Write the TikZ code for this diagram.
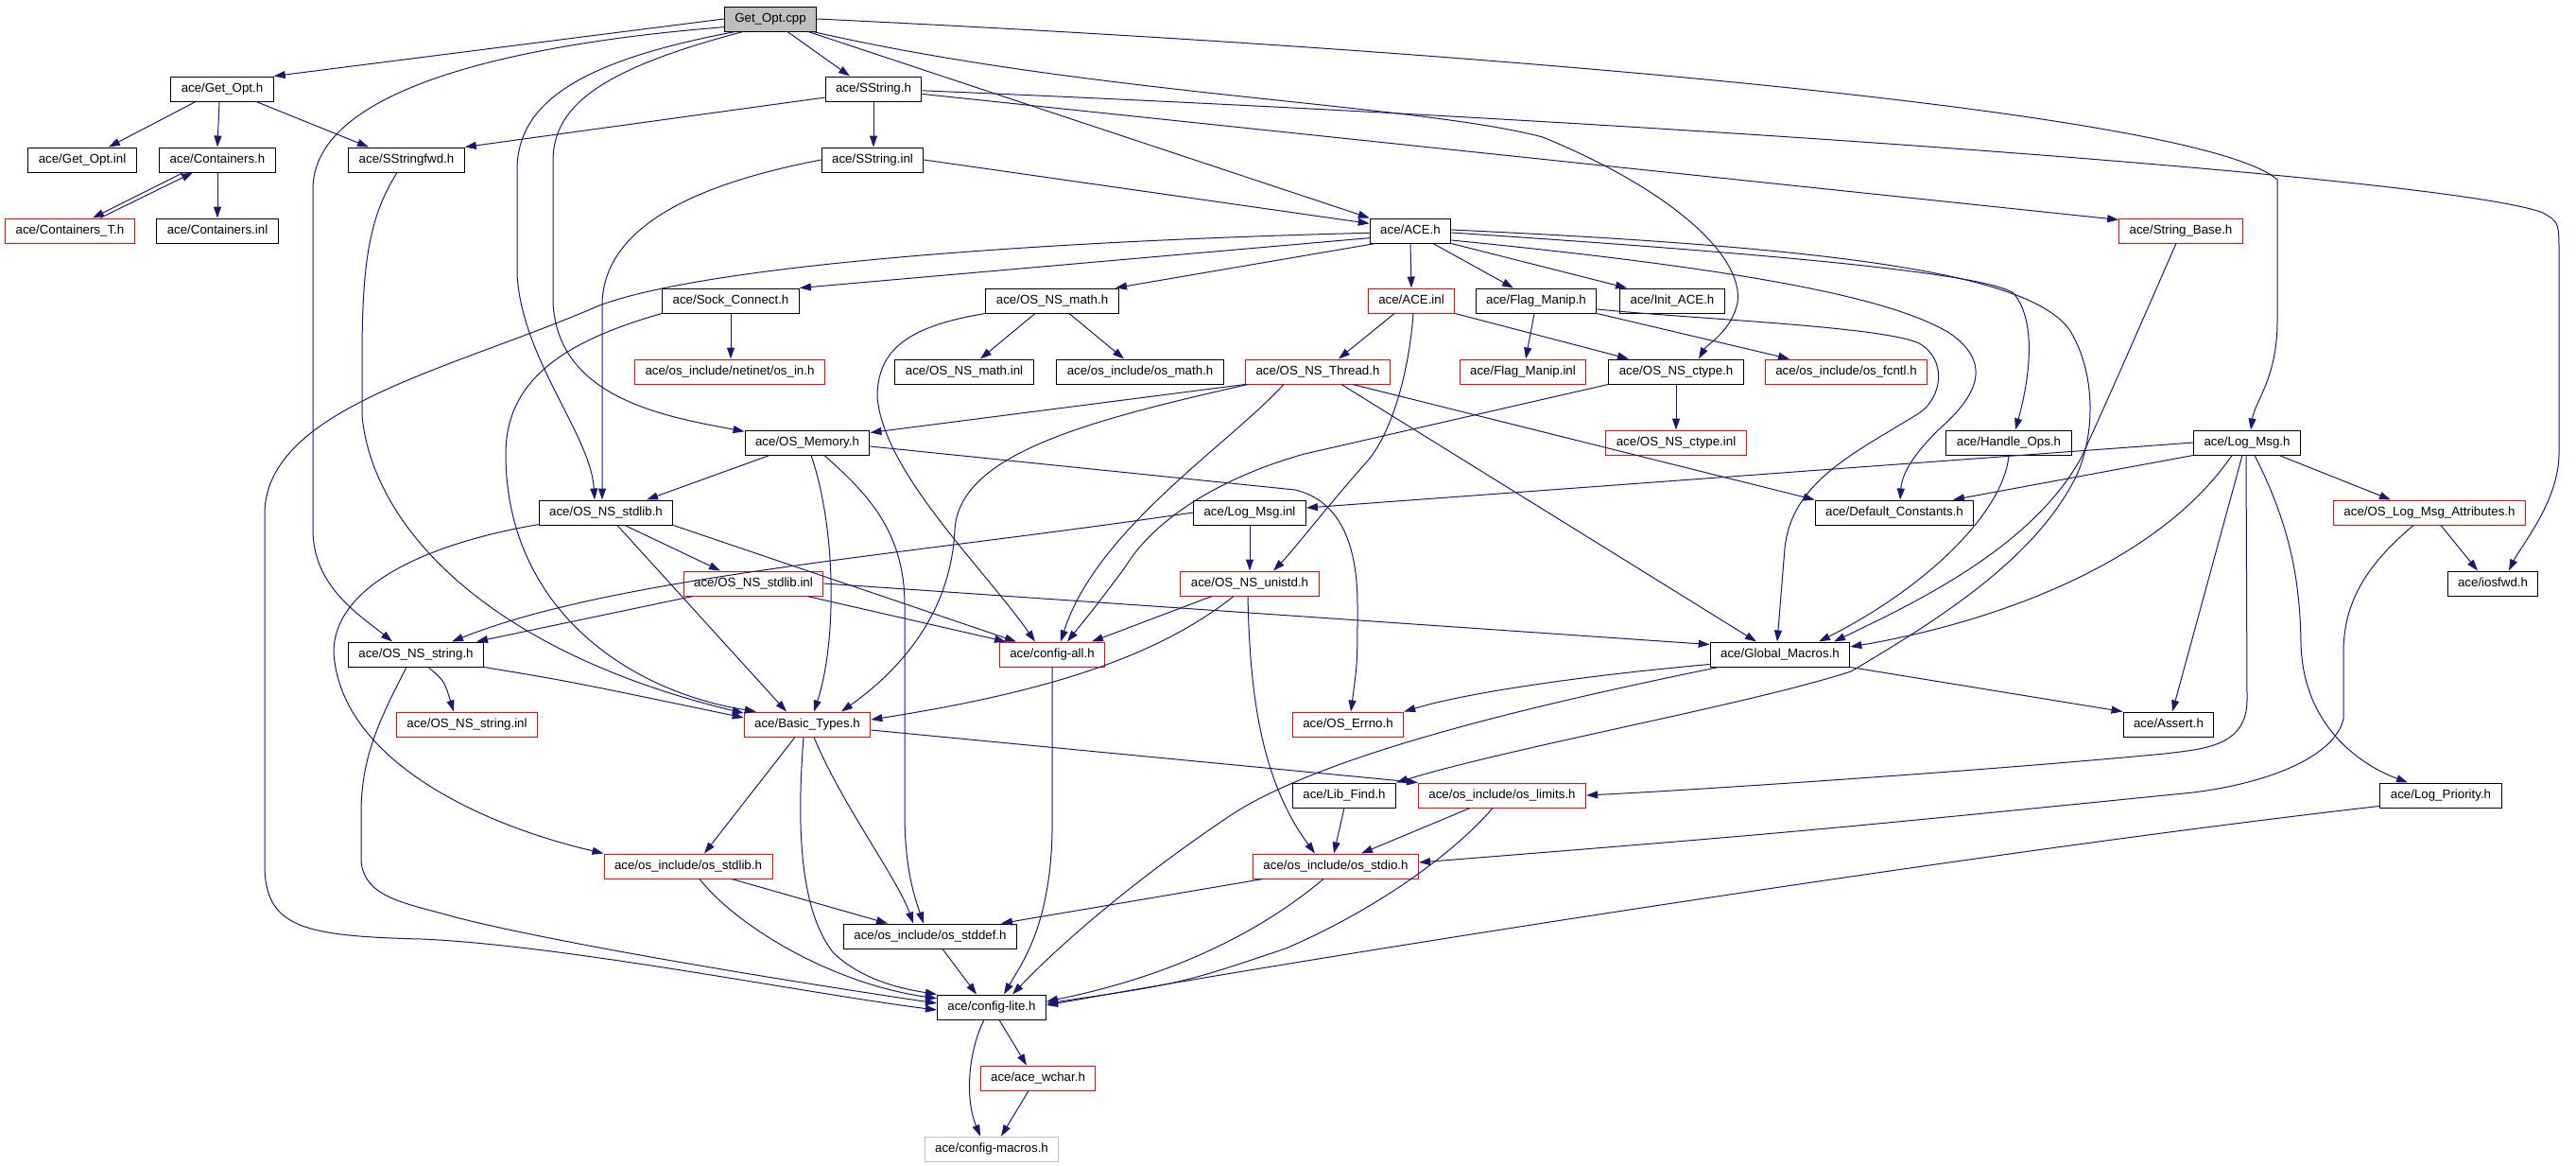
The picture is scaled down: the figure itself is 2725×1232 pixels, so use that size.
\documentclass[tikz,border=0pt]{standalone}
\usepackage{fontspec}
\setmainfont{Liberation Sans}
\usetikzlibrary{arrows.meta}
\definecolor{edgeblue}{HTML}{191970}
\definecolor{boxgray}{HTML}{BFBFBF}
\tikzstyle{file} = [draw=black, fill=white, rectangle, line width=1pt,
    minimum height=26pt, inner xsep=11pt, inner ysep=0pt,
    text height=10pt, text depth=3pt, font=\fontsize{13.3}{16}\selectfont]
\tikzstyle{partfile} = [file, draw=red]
\tikzstyle{mainfile} = [file, fill=boxgray]
\tikzstyle{grayfile} = [file, draw=boxgray]
\tikzstyle{incl} = [draw=edgeblue, line width=1pt, -{Triangle[length=12pt,width=8pt]}]

\begin{document}
\begin{tikzpicture}[x=1pt, y=-1pt]
    \useasboundingbox (0,0) rectangle (2725,1232);
    \node [mainfile] (cpp) at (815,20) {Get\_Opt.cpp};
    \node [file] (goh) at (235,94) {ace/Get\_Opt.h};
    \node [file] (ssh) at (924,94) {ace/SString.h};
    \node [file] (goi) at (87,169) {ace/Get\_Opt.inl};
    \node [file] (conh) at (230,169) {ace/Containers.h};
    \node [file] (ssfwd) at (430,169) {ace/SStringfwd.h};
    \node [file] (ssinl) at (923,169) {ace/SString.inl};
    \node [partfile] (cont) at (74,244) {ace/Containers\_T.h};
    \node [file] (coninl) at (230,244) {ace/Containers.inl};
    \node [file] (ace) at (1492,244) {ace/ACE.h};
    \node [partfile] (sbase) at (2307,244) {ace/String\_Base.h};
    \node [file] (sock) at (773,318) {ace/Sock\_Connect.h};
    \node [file] (math) at (1113,318) {ace/OS\_NS\_math.h};
    \node [partfile] (aceinl) at (1493,318) {ace/ACE.inl};
    \node [file] (flag) at (1625,318) {ace/Flag\_Manip.h};
    \node [file] (init) at (1769,318) {ace/Init\_ACE.h};
    \node [partfile] (osin) at (772,393) {ace/os\_include/netinet/os\_in.h};
    \node [file] (mathinl) at (1020,393) {ace/OS\_NS\_math.inl};
    \node [file] (osmath) at (1206,393) {ace/os\_include/os\_math.h};
    \node [partfile] (thread) at (1394,393) {ace/OS\_NS\_Thread.h};
    \node [partfile] (flaginl) at (1611,393) {ace/Flag\_Manip.inl};
    \node [file] (ctype) at (1773,393) {ace/OS\_NS\_ctype.h};
    \node [partfile] (fcntl) at (1953,393) {ace/os\_include/os\_fcntl.h};
    \node [file] (mem) at (854,468) {ace/OS\_Memory.h};
    \node [partfile] (ctypeinl) at (1773,468) {ace/OS\_NS\_ctype.inl};
    \node [file] (handle) at (2125,468) {ace/Handle\_Ops.h};
    \node [file] (logmsg) at (2377,468) {ace/Log\_Msg.h};
    \node [file] (stdlib) at (641,542) {ace/OS\_NS\_stdlib.h};
    \node [file] (logmsginl) at (1322,542) {ace/Log\_Msg.inl};
    \node [file] (defc) at (2004,542) {ace/Default\_Constants.h};
    \node [partfile] (attr) at (2570,542) {ace/OS\_Log\_Msg\_Attributes.h};
    \node [partfile] (stdlibinl) at (797,617) {ace/OS\_NS\_stdlib.inl};
    \node [partfile] (unistd) at (1322,617) {ace/OS\_NS\_unistd.h};
    \node [file] (iosfwd) at (2637,617) {ace/iosfwd.h};
    \node [file] (string) at (440,692) {ace/OS\_NS\_string.h};
    \node [partfile] (cfgall) at (1113,692) {ace/config-all.h};
    \node [file] (gmac) at (1883,692) {ace/Global\_Macros.h};
    \node [partfile] (stringinl) at (494,766) {ace/OS\_NS\_string.inl};
    \node [partfile] (basic) at (854,766) {ace/Basic\_Types.h};
    \node [partfile] (errno) at (1426,766) {ace/OS\_Errno.h};
    \node [file] (assert) at (2294,766) {ace/Assert.h};
    \node [file] (libfind) at (1422,841) {ace/Lib\_Find.h};
    \node [partfile] (limits) at (1589,841) {ace/os\_include/os\_limits.h};
    \node [file] (logprio) at (2582,841) {ace/Log\_Priority.h};
    \node [partfile] (osstdlib) at (728,916) {ace/os\_include/os\_stdlib.h};
    \node [partfile] (stdio) at (1413,916) {ace/os\_include/os\_stdio.h};
    \node [file] (stddef) at (984,990) {ace/os\_include/os\_stddef.h};
    \node [file] (lite) at (1049,1065) {ace/config-lite.h};
    \node [partfile] (wchar) at (1098,1140) {ace/ace\_wchar.h};
    \node [grayfile] (macros) at (1049,1215) {ace/config-macros.h};

    \draw [incl] (cpp.west) -- (goh.north east);
    \draw [incl] ([xshift=18pt]cpp.south) -- ([xshift=-25pt]ssh.north);
    \draw [incl] ([xshift=40pt]cpp.south) -- (ace.north west);
    \draw [incl] (cpp.east) .. controls (1600,55) and (2330,120) .. (2409,190) -- (2409,340) .. controls (2409,400) and (2385,425) .. ([xshift=4pt]logmsg.north);
    \draw [incl] ([xshift=45pt]cpp.south) .. controls (1150,100) and (1500,110) .. (1632,145) .. controls (1766,200) and (1845,270) .. (1838,320) .. controls (1832,350) and (1805,365) .. ([xshift=24pt]ctype.north);
    \draw [incl] (cpp.190) .. controls (560,45) and (331,90) .. (331,200) -- (331,560) .. controls (331,620) and (380,650) .. ([xshift=-25pt]string.north);
    \draw [incl] (cpp.200) .. controls (610,65) and (547,110) .. (547,180) -- (547,290) .. controls (552,380) and (625,460) .. ([xshift=-12pt]stdlib.north);
    \draw [incl] (cpp.205) .. controls (640,72) and (585,110) .. (585,170) -- (585,320) .. controls (590,420) and (700,440) .. (mem.170);

    \draw [incl] ([xshift=-28pt]goh.south) -- ([xshift=28pt]goi.north);
    \draw [incl] ([xshift=-3pt]goh.south) -- (conh.north);
    \draw [incl] ([xshift=36pt]goh.south) -- ([xshift=-40pt]ssfwd.north);
    \draw [incl] ([xshift=-36pt]conh.south) -- ([xshift=24pt]cont.north);
    \draw [incl] ([xshift=32pt]cont.north) -- ([xshift=-26pt]conh.south);
    \draw [incl] (conh.south) -- (coninl.north);

    \draw [incl] (ssh.190) -- (ssfwd.north east);
    \draw [incl] (ssh.south) -- (ssh.south |- ssinl.north);
    \draw [incl] (ssh.-6) -- (sbase.170);
    \draw [incl] (ssh.-2) .. controls (1800,130) and (2600,190) .. (2690,225) .. controls (2707,235) .. (2707,270) -- (2707,480) .. controls (2707,530) and (2665,580) .. ([xshift=17pt]iosfwd.north);
    \draw [incl] (ssinl.east) -- (ace.170);
    \draw [incl] (ssinl.west) .. controls (760,190) and (640,230) .. (637,320) -- ([xshift=-4pt]stdlib.north);
    \draw [incl] ([xshift=-10pt]ssfwd.south) .. controls (390,230) and (383,280) .. (383,380) -- (383,440) .. controls (395,560) and (520,690) .. (basic.170);

    \draw [incl] (ace.south) -- (aceinl.north);
    \draw [incl] ([xshift=24pt]ace.south) -- ([xshift=-24pt]flag.north);
    \draw [incl] (ace.south east) -- ([xshift=-48pt]init.north);
    \draw [incl] (ace.190) -- (sock.north east);
    \draw [incl] (ace.200) -- ([xshift=67pt]math.north);
    \draw [incl] (ace.183) .. controls (1100,255) and (750,280) .. (634,323) .. controls (480,390) and (285,430) .. (280,540) -- (280,920) .. controls (283,980) and (320,990) .. (446,993) .. controls (600,1000) and (850,1050) .. (lite.183);
    \draw [incl] ([yshift=1pt]ace.east) .. controls (1950,262) and (2150,290) .. (2190,350) .. controls (2220,400) and (2215,470) .. (2193,510) .. controls (2150,590) and (2060,650) .. (1958,710) .. controls (1850,745) and (1600,790) .. (libfind.north east);
    \draw [incl] ([yshift=-2pt]ace.east) .. controls (1900,270) and (2100,290) .. (2130,310) .. controls (2155,340) and (2147,400) .. ([xshift=7pt]handle.north);
    \draw [incl] ([yshift=-10pt]ace.east) .. controls (1850,285) and (2000,315) .. (2062,352) .. controls (2110,385) and (2090,420) .. (2050,455) .. controls (2025,480) and (2012,500) .. ([xshift=6pt]defc.north);

    \draw [incl] ([xshift=-18pt]aceinl.south) -- ([xshift=22pt]thread.north);
    \draw [incl] (aceinl.south east) -- ([xshift=-50pt]ctype.north);
    \draw [incl] ([xshift=2pt]aceinl.south) .. controls (1490,400) and (1470,460) .. (1447,487) .. controls (1400,540) and (1370,580) .. ([xshift=25pt]unistd.north);
    \draw [incl] ([xshift=-2pt]flag.south) -- ([xshift=3pt]flaginl.north);
    \draw [incl] (flag.south east) -- ([xshift=-60pt]fcntl.north);
    \draw [incl] ([yshift=-9pt]flag.east) .. controls (1800,338) and (1990,345) .. (2030,363) .. controls (2060,380) and (2055,420) .. (2030,437) .. controls (1960,480) and (1895,510) .. (1888,580) -- ([xshift=-3pt]gmac.north);

    \draw [incl] ([xshift=-18pt]math.south) -- ([xshift=17pt]mathinl.north);
    \draw [incl] ([xshift=18pt]math.south) -- ([xshift=-17pt]osmath.north);
    \draw [incl] (math.south west) .. controls (960,345) and (928,370) .. (928,420) .. controls (935,500) and (1040,600) .. ([xshift=-18pt]cfgall.north);
    \draw [incl] (sock.south) -- (sock.south |- osin.north);
    \draw [incl] (sock.south west) .. controls (600,360) and (535,400) .. (535,480) .. controls (535,640) and (660,730) .. (basic.166);

    \draw [incl] (thread.south west) -- ([yshift=-3pt]mem.north east);
    \draw [incl] ([xshift=3pt]thread.south west) .. controls (1150,445) and (1015,480) .. (1010,560) .. controls (1006,650) and (950,710) .. ([xshift=36pt]basic.north);
    \draw [incl] ([xshift=-36pt]thread.south) .. controls (1300,470) and (1160,560) .. ([xshift=9pt]cfgall.north);
    \draw [incl] ([xshift=37pt]thread.south) -- (defc.north west);
    \draw [incl] ([xshift=25pt]thread.south) -- ([xshift=-25pt]gmac.north);

    \draw [incl] ([xshift=-40pt]mem.south) -- ([xshift=43pt]stdlib.north);
    \draw [incl] ([xshift=4pt]mem.south) .. controls (885,560) and (885,680) .. ([xshift=7pt]basic.north);
    \draw [incl] ([xshift=18pt]mem.south) .. controls (915,520) and (957,560) .. (957,640) -- (957,860) .. controls (957,920) and (968,950) .. ([xshift=-7pt]stddef.north);
    \draw [incl] ([yshift=-4pt]mem.east) -- (1370,518) .. controls (1420,530) and (1436,580) .. (1436,640) .. controls (1436,700) .. ([xshift=3pt]errno.north);
    \draw [incl] (ctype.south) -- (ctypeinl.north);
    \draw [incl] (ctype.south west) -- (1380,480) .. controls (1290,505) and (1220,550) .. (1190,600) .. controls (1160,640) .. ([xshift=16pt]cfgall.north);

    \draw [incl] (logmsg.west) -- ([yshift=5pt]logmsginl.east);
    \draw [incl] (logmsg.south west) -- ([xshift=62pt]defc.north);
    \draw [incl] ([xshift=-16pt]logmsg.south) .. controls (2280,600) and (2100,660) .. ([yshift=8pt]gmac.east);
    \draw [incl] ([xshift=-5pt]logmsg.south) -- ([xshift=4pt]assert.north);
    \draw [incl] ([xshift=34pt]logmsg.south) -- ([xshift=-41pt]attr.north);
    \draw [incl] ([xshift=-1pt]logmsg.south) -- (2377,740) .. controls (2377,790) and (2330,792) .. (2290,797) .. controls (2100,815) and (1800,835) .. (limits.east);
    \draw [incl] ([xshift=8pt]logmsg.south) .. controls (2425,560) and (2433,620) .. (2434,680) .. controls (2436,770) and (2500,810) .. ([xshift=-35pt]logprio.north);
    \draw [incl] (logmsginl.south) -- (unistd.north);
    \draw [incl] (logmsginl.west) .. controls (950,588) and (650,610) .. ([xshift=38pt]string.north);
    \draw [incl] (handle.south) .. controls (2120,540) and (2040,620) .. ([xshift=41pt]gmac.north);
    \draw [incl] ([xshift=-5pt]sbase.south) .. controls (2270,330) and (2240,400) .. (2202,483) .. controls (2150,580) and (2020,640) .. ([xshift=57pt]gmac.north);
    \draw [incl] ([xshift=12pt]attr.south) -- ([xshift=-16pt]iosfwd.north);
    \draw [incl] ([xshift=-17pt]attr.south) .. controls (2500,600) and (2479,640) .. (2479,690) -- (2479,760) .. controls (2470,800) and (2400,828) .. (2320,838) .. controls (1900,880) .. ([yshift=4pt]stdio.east);

    \draw [incl] ([xshift=20pt]stdlib.south) -- ([xshift=-35pt]stdlibinl.north);
    \draw [incl] (stdlib.south east) -- ([xshift=-38pt]cfgall.north);
    \draw [incl] ([xshift=12pt]stdlib.south) -- ([xshift=-22pt]basic.north);
    \draw [incl] (stdlib.190) .. controls (450,575) and (353,620) .. (353,690) .. controls (360,800) and (500,870) .. (osstdlib.north west);
    \draw [incl] ([xshift=-64pt]stdlibinl.south) -- ([xshift=64pt]string.north);
    \draw [incl] ([xshift=57pt]stdlibinl.south) -- ([xshift=-49pt]cfgall.north);
    \draw [incl] (stdlibinl.east) -- (gmac.172);
    \draw [incl] ([xshift=-40pt]unistd.south) -- ([xshift=42pt]cfgall.north);
    \draw [incl] ([xshift=-17pt]unistd.south) .. controls (1230,690) and (1120,730) .. ([yshift=5pt]basic.east);
    \draw [incl] ([xshift=-2pt]unistd.south) .. controls (1322,720) and (1330,820) .. ([xshift=-22pt]stdio.north);

    \draw [incl] ([xshift=13pt]string.south) .. controls (470,720) .. ([xshift=-14pt]stringinl.north);
    \draw [incl] (string.south east) .. controls (600,720) .. (basic.174);
    \draw [incl] ([xshift=-10pt]string.south) .. controls (402,760) and (382,800) .. (382,860) -- (382,910) .. controls (385,950) and (430,955) .. (482,970) .. controls (600,1000) and (850,1040) .. (lite.176);
    \draw [incl] (cfgall.south) -- (1113,880) .. controls (1111,980) and (1080,1020) .. ([xshift=13pt]lite.north);
    \draw [incl] ([yshift=3pt]gmac.south west) .. controls (1700,712) and (1560,730) .. (errno.north east);
    \draw [incl] ([xshift=-65pt]gmac.south) .. controls (1600,750) and (1400,800) .. (1305,860) .. controls (1200,930) and (1120,1000) .. ([xshift=22pt]lite.north);
    \draw [incl] (gmac.south east) -- (assert.north west);

    \draw [incl] ([yshift=-6pt]basic.east) -- (limits.north west);
    \draw [incl] ([xshift=-13pt]basic.south) -- ([xshift=17pt]osstdlib.north);
    \draw [incl] ([xshift=7pt]basic.south) .. controls (890,850) and (950,930) .. ([xshift=-18pt]stddef.north);
    \draw [incl] ([xshift=-4pt]basic.south) .. controls (843,870) and (845,960) .. (881,1007) .. controls (910,1035) and (950,1045) .. (lite.north west);
    \draw [incl] ([xshift=46pt]osstdlib.south) -- ([xshift=-45pt]stddef.north);
    \draw [incl] ([xshift=12pt]osstdlib.south) .. controls (780,980) and (880,1040) .. (lite.171);
    \draw [incl] ([xshift=-77pt]stdio.south) -- ([xshift=75pt]stddef.north);
    \draw [incl] ([xshift=-13pt]stdio.south) .. controls (1340,980) and (1250,1030) .. ([yshift=6pt]lite.east);
    \draw [incl] (libfind.south) -- ([xshift=-2pt]stdio.north);
    \draw [incl] ([xshift=-34pt]limits.south) -- ([xshift=27pt]stdio.north);
    \draw [incl] ([xshift=-10pt]limits.south) .. controls (1540,900) and (1460,960) .. (1360,1003) .. controls (1250,1040) .. ([yshift=4pt]lite.east);
    \draw [incl] (logprio.190) .. controls (2100,900) and (1400,1010) .. ([yshift=2pt]lite.east);
    \draw [incl] ([xshift=13pt]stddef.south) -- ([xshift=-16pt]lite.north);
    \draw [incl] ([xshift=8pt]lite.south) -- ([xshift=-12pt]wchar.north);
    \draw [incl] ([xshift=-8pt]lite.south) .. controls (1025,1110) and (1020,1160) .. ([xshift=-12pt]macros.north);
    \draw [incl] ([xshift=-10pt]wchar.south) -- ([xshift=10pt]macros.north);
\end{tikzpicture}
\end{document}
